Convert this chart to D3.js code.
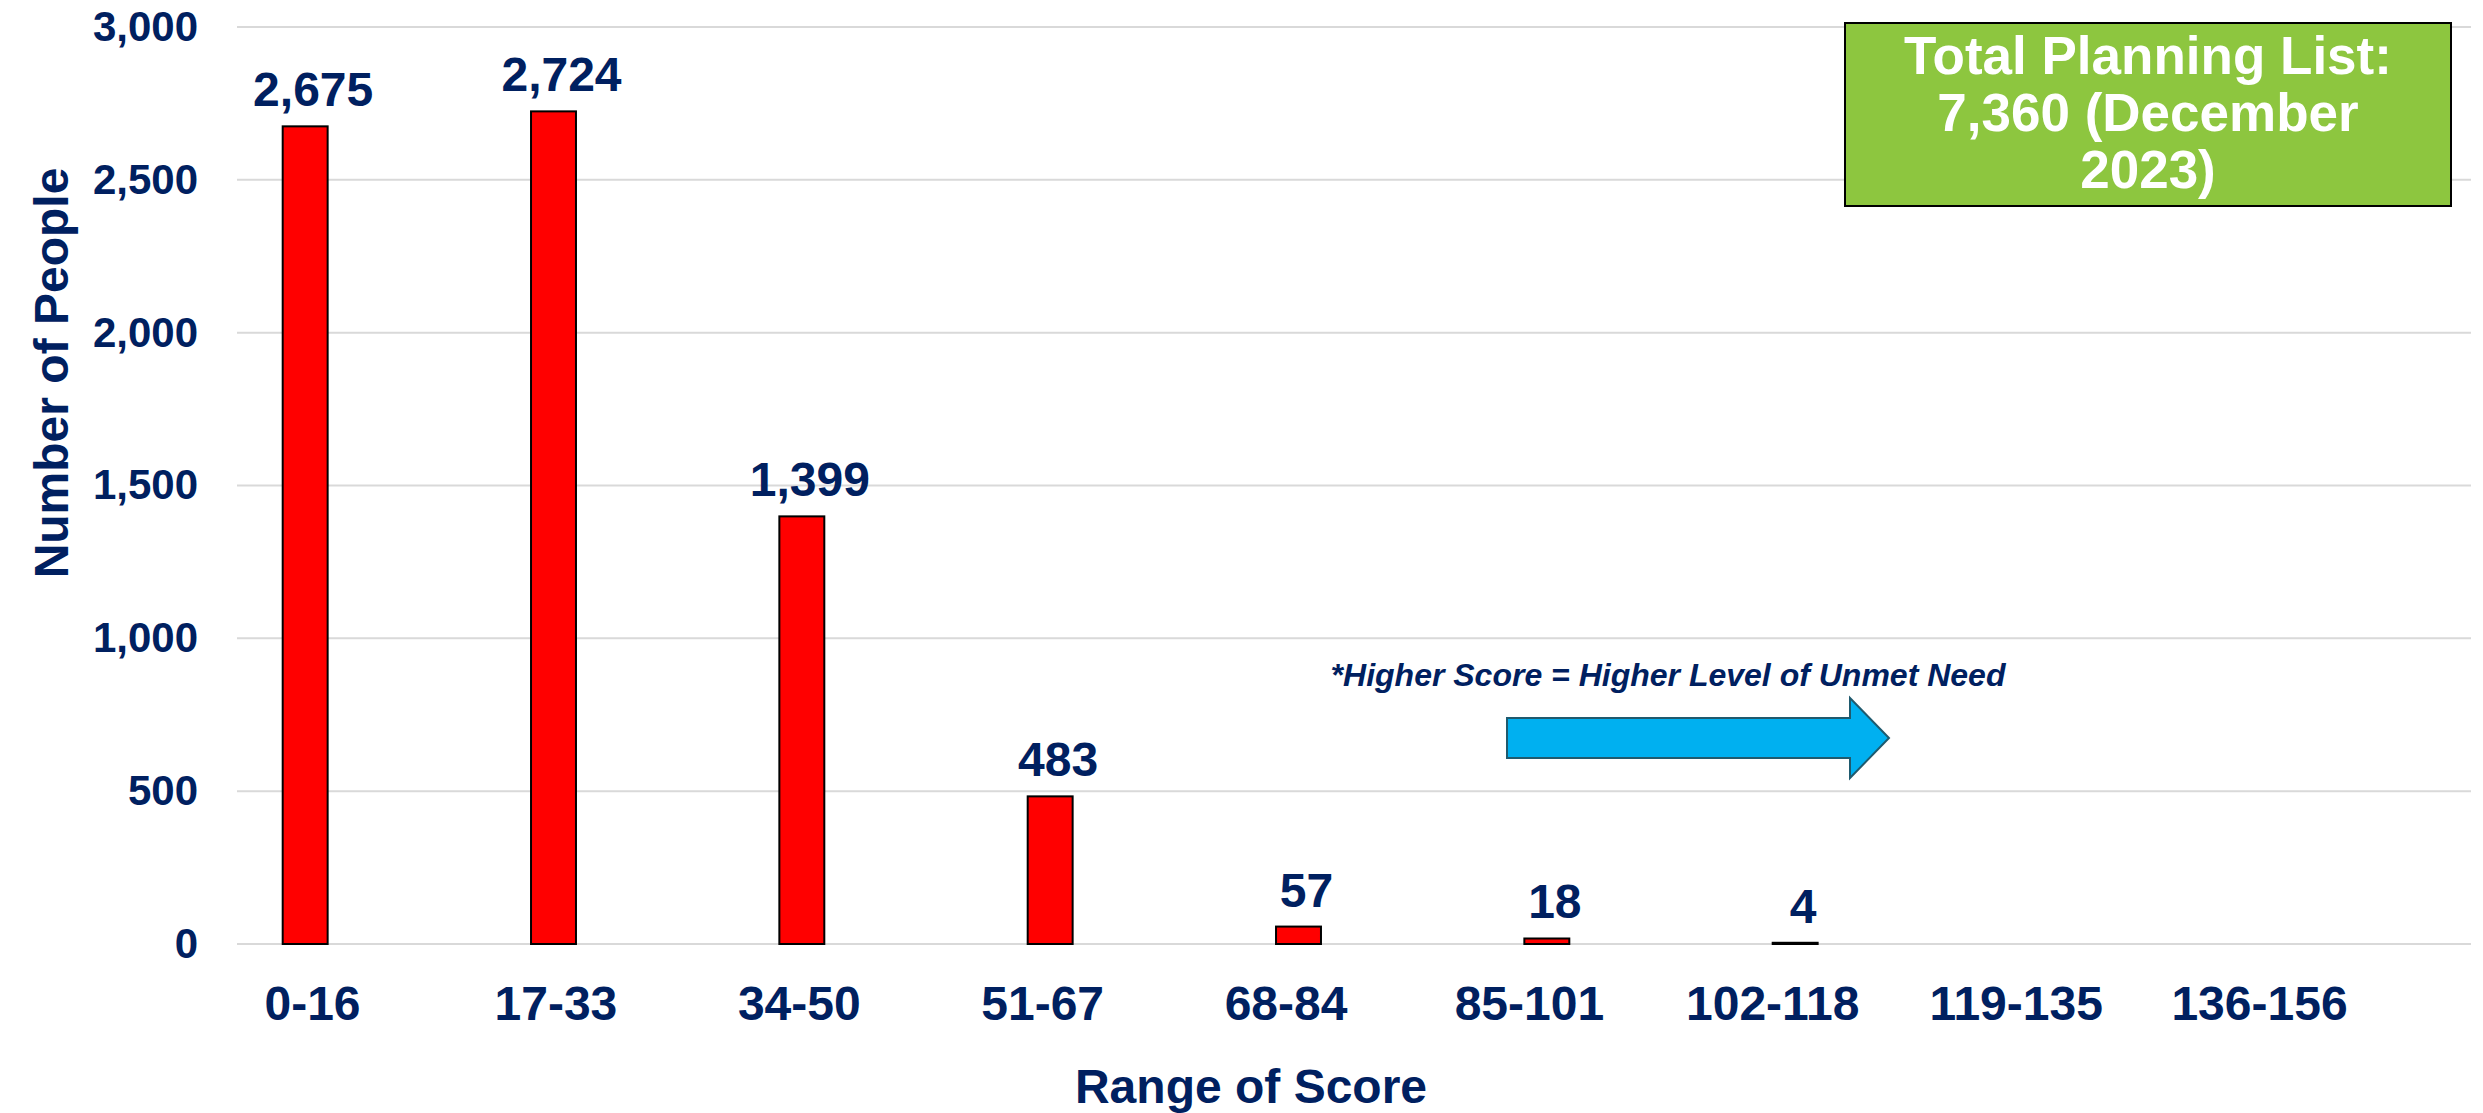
<!DOCTYPE html>
<html>
<head>
<meta charset="utf-8">
<script src="https://cdn.jsdelivr.net/npm/d3@7"></script>
<style>
  body { margin: 0; background: #fff; }
  text { font-family: "Liberation Sans", Arial, sans-serif; font-weight: bold; }
</style>
</head>
<body>
<div id="chart"></div>
<script>
// data
var categories = ["0-16", "17-33", "34-50", "51-67", "68-84", "85-101", "102-118", "119-135", "136-156"];
var people = [2675, 2724, 1399, 483, 57, 18, 4, 0, 0];
var yTicks = [0, 500, 1000, 1500, 2000, 2500, 3000];
var boxLines = ["Total Planning List:", "7,360 (December", "2023)"];
var noteText = "*Higher Score = Higher Level of Unmet Need";

var W = 2483, H = 1113;
var navy = "#002060";

var svg = d3.select("#chart").append("svg")
    .attr("width", W)
    .attr("height", H);

var plotLeft = 237, plotRight = 2471;

var x_scale = d3.scaleBand()
    .domain(categories)
    .range([181, 2416])
    .paddingInner(0.819)
    .paddingOuter(0.4095);

var y_scale = d3.scaleLinear()
    .domain([0, 3000])
    .range([944, 27]);

// gridlines
svg.append("g")
    .selectAll("line")
    .data(yTicks)
    .join("line")
    .attr("x1", plotLeft)
    .attr("x2", plotRight)
    .attr("y1", d => y_scale(d))
    .attr("y2", d => y_scale(d))
    .attr("stroke", "#d9d9d9")
    .attr("stroke-width", 2);

// y axis labels
var yAxis = svg.append("g")
    .attr("transform", "translate(198,0)")
    .call(d3.axisLeft(y_scale).tickValues(yTicks).tickSize(0).tickPadding(0).tickFormat(d3.format(",")));
yAxis.select(".domain").remove();
yAxis.selectAll("text")
    .attr("fill", navy)
    .style("font-size", "42px")
    .style("font-family", "'Liberation Sans', Arial, sans-serif")
    .style("font-weight", "bold");

// x axis labels (category text sits a little off the bars, as in the original)
var x_label = d3.scalePoint()
    .domain(categories)
    .range([312, 2259]);

var xAxis = svg.append("g")
    .attr("transform", "translate(0,1020)")
    .call(d3.axisBottom(x_label).tickSize(0).tickPadding(0));
xAxis.select(".domain").remove();
xAxis.selectAll("text")
    .attr("fill", navy)
    .attr("dy", 0)
    .attr("y", 0)
    .style("font-size", "48px")
    .style("font-family", "'Liberation Sans', Arial, sans-serif")
    .style("font-weight", "bold");

// bars
var data = categories.map((c, i) => ({ cat: c, value: people[i] }));

svg.append("g")
    .selectAll("rect")
    .data(data.filter(d => d.value > 0))
    .join("rect")
    .attr("x", d => x_scale(d.cat))
    .attr("y", d => y_scale(d.value))
    .attr("width", x_scale.bandwidth())
    .attr("height", d => y_scale(0) - y_scale(d.value))
    .attr("fill", "#ff0000")
    .attr("stroke", "#000")
    .attr("stroke-width", 2);

// value labels
svg.append("g")
    .selectAll("text")
    .data(data.filter(d => d.value > 0))
    .join("text")
    .attr("x", d => x_scale(d.cat) + x_scale.bandwidth() / 2 + 8)
    .attr("y", d => y_scale(d.value) - 20)
    .attr("text-anchor", "middle")
    .attr("fill", navy)
    .style("font-size", "48px")
    .text(d => d3.format(",")(d.value));

// axis titles
svg.append("text")
    .attr("transform", "translate(68,373) rotate(-90)")
    .attr("text-anchor", "middle")
    .attr("fill", navy)
    .style("font-size", "48px")
    .text("Number of People");

svg.append("text")
    .attr("x", 1251)
    .attr("y", 1103)
    .attr("text-anchor", "middle")
    .attr("fill", navy)
    .style("font-size", "48px")
    .text("Range of Score");

// note + arrow
svg.append("text")
    .attr("x", 1668)
    .attr("y", 686)
    .attr("text-anchor", "middle")
    .attr("fill", navy)
    .style("font-size", "32px")
    .style("font-style", "italic")
    .text(noteText);

var arrow = [[1507, 718], [1850, 718], [1850, 698], [1889, 738], [1850, 778], [1850, 758], [1507, 758]];
svg.append("path")
    .attr("d", d3.line()(arrow) + "Z")
    .attr("fill", "#00b0f0")
    .attr("stroke", "#1f5a6e")
    .attr("stroke-width", 2);

// total box
svg.append("rect")
    .attr("x", 1845)
    .attr("y", 23)
    .attr("width", 606)
    .attr("height", 183)
    .attr("fill", "#8dc63f")
    .attr("stroke", "#000")
    .attr("stroke-width", 2);

svg.append("g")
    .selectAll("text")
    .data(boxLines)
    .join("text")
    .attr("x", 2148)
    .attr("y", (d, i) => 74 + i * 57)
    .attr("text-anchor", "middle")
    .attr("fill", "#fff")
    .style("font-size", "53px")
    .text(d => d);
</script>
</body>
</html>
